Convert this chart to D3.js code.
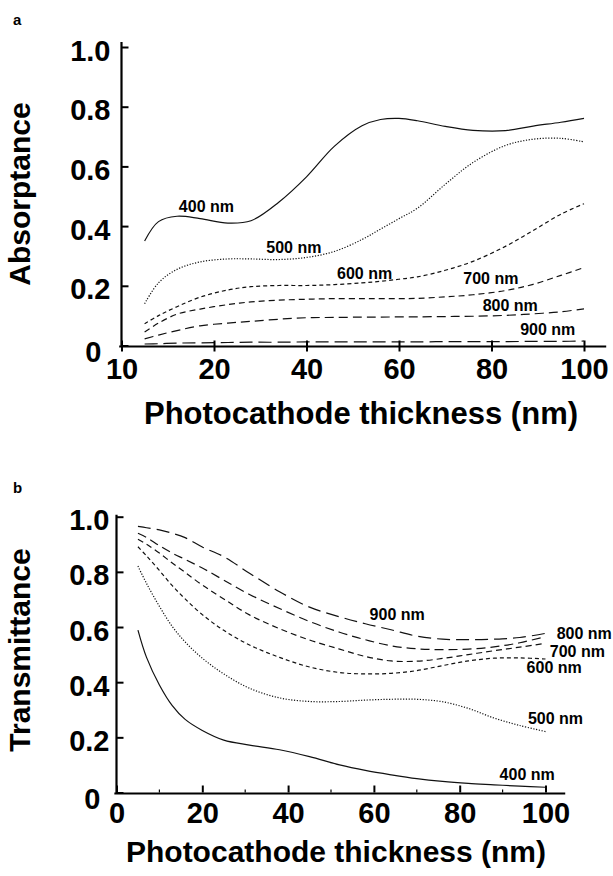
<!DOCTYPE html>
<html>
<head>
<meta charset="utf-8">
<script src="https://cdn.jsdelivr.net/npm/d3@7"></script>
<style>
  body { margin: 0; background: #fff; }
  svg text { font-family: "Liberation Sans", Arial, Helvetica, sans-serif; font-weight: bold; fill: #000; }
</style>
</head>
<body>
<svg id="chart" width="613" height="876"></svg>
<script>
// wavelengths shared by both panels
const wavelengths = ["400 nm", "500 nm", "600 nm", "700 nm", "800 nm", "900 nm"];

// panel a: absorptance vs photocathode thickness (nm)
const thicknessA = [5, 8, 12, 17, 23, 28, 34, 40, 46, 52, 56, 60, 64, 70, 76, 83, 89, 95, 100];
const absorb400 = [.35, .415, .433, .425, .41, .418, .48, .565, .667, .736, .757, .761, .753, .734, .721, .72, .735, .748, .761];
const absorb500 = [.14, .21, .255, .28, .29, .29, .288, .295, .315, .355, .39, .425, .46, .54, .613, .67, .691, .694, .682];
const absorb600 = [.073, .1, .13, .162, .186, .197, .201, .201, .204, .21, .215, .222, .23, .252, .282, .332, .385, .44, .475];
const absorb700 = [.045, .075, .105, .122, .137, .146, .152, .155, .157, .157, .157, .157, .158, .163, .17, .184, .205, .235, .261];
const absorb800 = [.022, .035, .05, .066, .075, .081, .088, .093, .094, .095, .095, .096, .096, .097, .098, .101, .106, .113, .123];
const absorb900 = [.005, .006, .008, .009, .01, .011, .011, .012, .012, .012, .012, .012, .012, .013, .013, .013, .014, .014, .015];
// curve label anchors (thickness, absorptance)
const labelsA = [[12.4, .447], [31.3, .311], [46.6, .224], [73.9, .205], [78.1, .114], [86.2, .034]];
const ticksXA = [0, 20, 40, 60, 80, 100];
const tickTextXA = ["10", "20", "40", "60", "80", "100"];

// panel b: transmittance vs photocathode thickness (nm)
const thicknessB = [5, 7, 10, 13, 16, 20, 25, 31, 38, 45, 52, 58, 64, 70, 76, 82, 88, 94, 100];
const trans400 = [.589, .49, .39, .315, .265, .225, .19, .172, .155, .13, .1, .08, .064, .05, .04, .033, .028, .023, .019];
const trans500 = [.821, .758, .675, .602, .546, .487, .43, .378, .343, .33, .33, .335, .338, .338, .329, .305, .27, .243, .221];
const trans600 = [.891, .858, .805, .75, .702, .645, .588, .535, .49, .455, .435, .43, .432, .442, .46, .477, .487, .488, .484];
const trans700 = [.918, .9, .868, .832, .798, .752, .702, .644, .594, .553, .52, .493, .477, .476, .486, .5, .514, .527, .541];
const trans800 = [.94, .925, .895, .868, .845, .814, .77, .718, .667, .62, .581, .554, .532, .521, .518, .52, .528, .543, .565];
const trans900 = [.965, .96, .952, .94, .924, .89, .855, .795, .728, .672, .637, .612, .59, .567, .556, .554, .556, .562, .577];
const labelsB = [[89.3, .045], [95.9, .248], [95.6, .434], [101, .492], [102.6, .556], [59, .625]];
const ticksXB = [0, 20, 40, 60, 80, 100];
const tickTextXB = ["0", "20", "40", "60", "80", "100"];

const ticksY = [0, .2, .4, .6, .8, 1.0];
const dashes = [null, "1.2,1.6", "4,3", "6,4", "9,5", "13,6"];

const svg = d3.select("#chart");

function drawPanel(p) {
  const g = svg.append("g");
  const x = d3.scaleLinear().domain([0, 100]).range(p.xRange);
  const y = d3.scaleLinear().domain([0, 1]).range(p.yRange);

  // curves
  const line = d3.line().x(d => x(d[0])).y(d => y(d[1])).curve(d3.curveCatmullRom.alpha(0.5));
  p.series.forEach((vals, i) => {
    g.append("path")
      .datum(p.xs.map((t, j) => [t, vals[j]]))
      .attr("d", line)
      .attr("fill", "none")
      .attr("stroke", "#111")
      .attr("stroke-width", 1.2)
      .attr("stroke-dasharray", dashes[i]);
  });

  // curve labels
  p.labels.forEach((l, i) => {
    g.append("text")
      .attr("x", x(l[0]))
      .attr("y", y(l[1]))
      .style("font-size", "16px")
      .text(wavelengths[i]);
  });

  // y axis
  const ya = g.append("g")
    .attr("transform", `translate(${x(0)},0)`)
    .call(d3.axisLeft(y).tickValues(ticksY).tickSizeInner(-7).tickSizeOuter(0).tickPadding(p.yPad)
      .tickFormat(d => d === 0 ? "0" : d.toFixed(1)));
  ya.select(".domain").remove();
  ya.selectAll(".tick line").attr("stroke", "#000").attr("stroke-width", 2);
  ya.selectAll(".tick text").style("font-size", "29px").attr("dy", "0.45em")
    .filter(d => d === 0).attr("dx", -9).attr("dy", "0.55em");

  // x axis
  const xa = g.append("g")
    .attr("transform", `translate(0,${y(0)})`)
    .call(d3.axisBottom(x).tickValues(p.ticksX).tickSizeOuter(0).tickSizeInner(p.xTickDown).tickPadding(p.xPad)
      .tickFormat((d, i) => p.tickTextX[i]));
  xa.select(".domain").remove();
  xa.selectAll(".tick line").attr("stroke", "#000").attr("stroke-width", 2).attr("y1", -p.xTickUp);
  xa.selectAll(".tick text").style("font-size", "29px");

  if (p.minor) {
    xa.selectAll(".minor").data(d3.range(10, 100, 20)).enter().append("line")
      .attr("x1", d => x(d)).attr("x2", d => x(d))
      .attr("y1", 0).attr("y2", -3)
      .attr("stroke", "#000").attr("stroke-width", 1.2);
  }

  // axis lines
  g.append("line")
    .attr("x1", x(0)).attr("x2", x(0))
    .attr("y1", y(0) + 1).attr("y2", y(p.yTop))
    .attr("stroke", "#000").attr("stroke-width", 2.2);
  g.append("line")
    .attr("x1", x(-0.5)).attr("x2", x(p.xEnd))
    .attr("y1", y(0) + 1).attr("y2", y(0) + 1)
    .attr("stroke", "#000").attr("stroke-width", 2.2);

  // titles
  g.append("text")
    .attr("transform", `translate(${p.yTitle[0]},${p.yTitle[1]}) rotate(-90)`)
    .attr("text-anchor", "middle")
    .style("font-size", "30px")
    .text(p.yLabel);
  g.append("text")
    .attr("x", p.xTitle[0]).attr("y", p.xTitle[1])
    .attr("text-anchor", "middle")
    .style("font-size", p.xTitleSize)
    .text("Photocathode thickness (nm)");
  g.append("text")
    .attr("x", 13).attr("y", p.letterY)
    .style("font-size", "15px")
    .text(p.letter);
}

drawPanel({
  xs: thicknessA,
  series: [absorb400, absorb500, absorb600, absorb700, absorb800, absorb900],
  labels: labelsA,
  ticksX: ticksXA, tickTextX: tickTextXA,
  xRange: [121.5, 584], yRange: [345.5, 47],
  yPad: 11, xPad: 7, xTickDown: 6, xTickUp: 5,
  yTop: 1.017, xEnd: 104.8, minor: false,
  yLabel: "Absorptance", yTitle: [30, 194],
  xTitle: [361, 424], xTitleSize: "31px",
  letter: "a", letterY: 25
});

drawPanel({
  xs: thicknessB,
  series: [trans400, trans500, trans600, trans700, trans800, trans900],
  labels: labelsB,
  ticksX: ticksXB, tickTextX: tickTextXB,
  xRange: [116.5, 545.5], yRange: [792.5, 516.7],
  yPad: 7, xPad: 10, xTickDown: 0, xTickUp: 7,
  yTop: 1.007, xEnd: 104.6, minor: true,
  yLabel: "Transmittance", yTitle: [30, 650],
  xTitle: [336, 862], xTitleSize: "30px",
  letter: "b", letterY: 493
});
</script>
</body>
</html>
